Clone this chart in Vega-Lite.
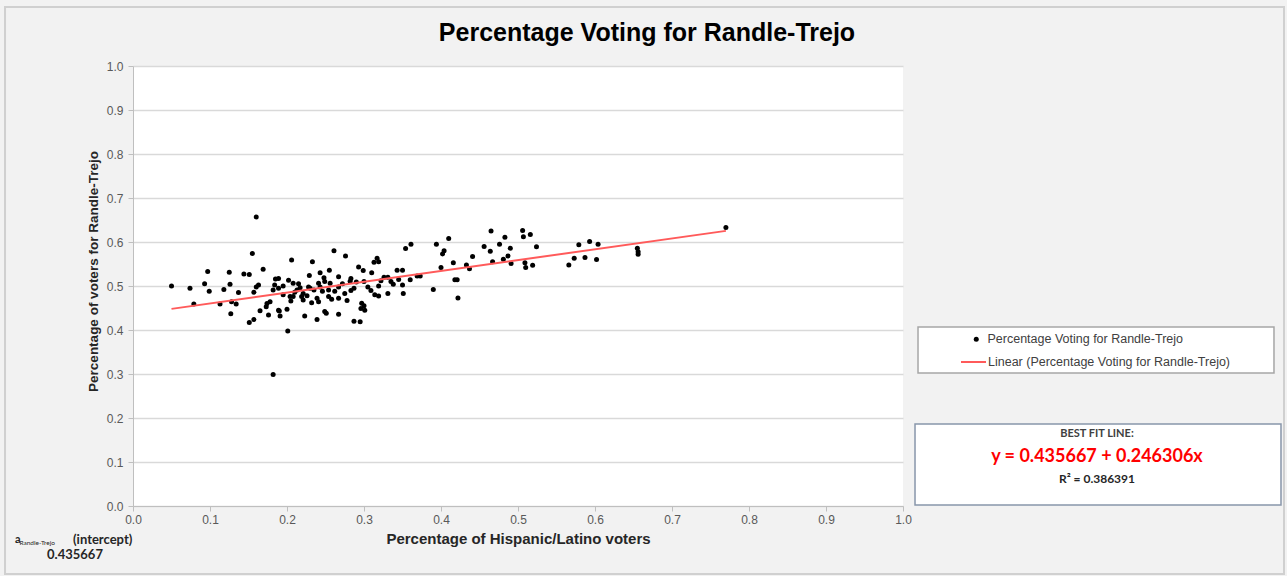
{
  "$schema": "https://vega.github.io/schema/vega-lite/v6.json",
  "width": 770,
  "height": 440,
  "autosize": {"type": "none"},
  "padding": {"left": 133, "top": 66, "right": 384, "bottom": 70},
  "background": "#f2f2f2",
  "config": {
    "view": {"fill": "white", "stroke": null},
    "font": "Liberation Sans"
  },
  "title": {
    "text": "Percentage Voting for Randle-Trejo",
    "fontSize": 25,
    "fontWeight": "bold",
    "font": "Liberation Sans",
    "color": "#000000",
    "frame": "group",
    "anchor": "middle",
    "dx": 129,
    "offset": -40
  },
  "datasets": {
    "pts": [
      {"x":0.160,"y":0.657},{"x":0.155,"y":0.574},{"x":0.097,"y":0.533},{"x":0.125,"y":0.531},{"x":0.144,"y":0.527},
      {"x":0.151,"y":0.526},{"x":0.169,"y":0.538},{"x":0.050,"y":0.500},{"x":0.074,"y":0.495},{"x":0.093,"y":0.505},
      {"x":0.099,"y":0.488},{"x":0.118,"y":0.492},{"x":0.126,"y":0.504},{"x":0.137,"y":0.485},{"x":0.079,"y":0.459},
      {"x":0.113,"y":0.459},{"x":0.128,"y":0.464},{"x":0.134,"y":0.459},{"x":0.127,"y":0.437},{"x":0.151,"y":0.417},
      {"x":0.157,"y":0.424},{"x":0.165,"y":0.444},{"x":0.157,"y":0.486},{"x":0.160,"y":0.498},{"x":0.163,"y":0.502},
      {"x":0.174,"y":0.460},{"x":0.173,"y":0.453},{"x":0.178,"y":0.464},{"x":0.176,"y":0.434},{"x":0.182,"y":0.491},
      {"x":0.185,"y":0.516},{"x":0.189,"y":0.495},{"x":0.189,"y":0.445},{"x":0.182,"y":0.299},
      {"x":0.361,"y":0.595},{"x":0.354,"y":0.585},{"x":0.261,"y":0.580},{"x":0.276,"y":0.568},{"x":0.206,"y":0.559},
      {"x":0.233,"y":0.555},{"x":0.317,"y":0.563},{"x":0.319,"y":0.555},{"x":0.313,"y":0.554},{"x":0.293,"y":0.543},
      {"x":0.299,"y":0.535},{"x":0.255,"y":0.536},{"x":0.243,"y":0.530},{"x":0.229,"y":0.524},{"x":0.248,"y":0.519},
      {"x":0.267,"y":0.521},{"x":0.282,"y":0.511},{"x":0.189,"y":0.517},{"x":0.202,"y":0.513},{"x":0.184,"y":0.502},
      {"x":0.310,"y":0.530},{"x":0.326,"y":0.520},{"x":0.331,"y":0.520},{"x":0.343,"y":0.536},{"x":0.350,"y":0.536},
      {"x":0.360,"y":0.514},{"x":0.338,"y":0.504},{"x":0.350,"y":0.502},{"x":0.319,"y":0.500},{"x":0.305,"y":0.498},
      {"x":0.290,"y":0.509},{"x":0.287,"y":0.495},{"x":0.275,"y":0.483},{"x":0.267,"y":0.498},{"x":0.256,"y":0.506},
      {"x":0.254,"y":0.491},{"x":0.243,"y":0.498},{"x":0.235,"y":0.491},{"x":0.228,"y":0.498},{"x":0.221,"y":0.483},
      {"x":0.217,"y":0.496},{"x":0.210,"y":0.486},{"x":0.204,"y":0.476},{"x":0.195,"y":0.480},{"x":0.221,"y":0.468},
      {"x":0.239,"y":0.472},{"x":0.241,"y":0.464},{"x":0.254,"y":0.476},{"x":0.267,"y":0.472},{"x":0.278,"y":0.467},
      {"x":0.297,"y":0.461},{"x":0.300,"y":0.455},{"x":0.296,"y":0.449},{"x":0.301,"y":0.445},{"x":0.314,"y":0.480},
      {"x":0.331,"y":0.483},{"x":0.351,"y":0.483},{"x":0.249,"y":0.442},{"x":0.251,"y":0.438},{"x":0.267,"y":0.436},
      {"x":0.223,"y":0.432},{"x":0.239,"y":0.424},{"x":0.200,"y":0.447},{"x":0.191,"y":0.432},{"x":0.190,"y":0.443},
      {"x":0.287,"y":0.420},{"x":0.295,"y":0.419},{"x":0.201,"y":0.398},
      {"x":0.465,"y":0.625},{"x":0.506,"y":0.626},{"x":0.507,"y":0.612},{"x":0.516,"y":0.617},{"x":0.483,"y":0.611},
      {"x":0.410,"y":0.608},{"x":0.394,"y":0.595},{"x":0.476,"y":0.595},{"x":0.456,"y":0.590},{"x":0.464,"y":0.579},
      {"x":0.490,"y":0.586},{"x":0.524,"y":0.589},{"x":0.404,"y":0.580},{"x":0.402,"y":0.573},{"x":0.487,"y":0.568},
      {"x":0.481,"y":0.561},{"x":0.441,"y":0.567},{"x":0.467,"y":0.555},{"x":0.491,"y":0.551},{"x":0.509,"y":0.553},
      {"x":0.510,"y":0.542},{"x":0.519,"y":0.547},{"x":0.416,"y":0.553},{"x":0.433,"y":0.548},{"x":0.437,"y":0.539},
      {"x":0.400,"y":0.542},{"x":0.373,"y":0.523},{"x":0.369,"y":0.523},{"x":0.418,"y":0.514},{"x":0.421,"y":0.514},
      {"x":0.390,"y":0.492},{"x":0.422,"y":0.473},
      {"x":0.770,"y":0.633},{"x":0.593,"y":0.601},{"x":0.579,"y":0.594},{"x":0.604,"y":0.595},{"x":0.655,"y":0.586},
      {"x":0.656,"y":0.578},{"x":0.656,"y":0.572},{"x":0.573,"y":0.563},{"x":0.587,"y":0.565},{"x":0.602,"y":0.560},
      {"x":0.566,"y":0.548},
      {"x":0.319,"y":0.477},{"x":0.283,"y":0.517},{"x":0.249,"y":0.510},{"x":0.241,"y":0.506},{"x":0.230,"y":0.495},
      {"x":0.219,"y":0.476},{"x":0.208,"y":0.506},{"x":0.213,"y":0.491},{"x":0.208,"y":0.476},
      {"x":0.215,"y":0.505},{"x":0.226,"y":0.478},{"x":0.246,"y":0.488},{"x":0.262,"y":0.488},{"x":0.272,"y":0.505},
      {"x":0.283,"y":0.490},{"x":0.300,"y":0.510},{"x":0.309,"y":0.490},{"x":0.322,"y":0.512},{"x":0.335,"y":0.510},
      {"x":0.345,"y":0.515},{"x":0.258,"y":0.470},{"x":0.232,"y":0.462},{"x":0.205,"y":0.466},{"x":0.195,"y":0.500}
    ],
    "fit": [
      {"x": 0.05, "y": 0.4480},
      {"x": 0.77, "y": 0.6253}
    ],
    "one": [{}]
  },
  "layer": [
    {
      "data": {"name": "one"},
      "mark": {"type": "rect", "fill": "transparent", "stroke": "#d0d0d0", "strokeWidth": 2, "clip": false},
      "encoding": {"x": {"datum": -0.1662}, "x2": {"datum": 1.4948}, "y": {"datum": 1.1341}, "y2": {"datum": -0.1545}}
    },
    {
      "data": {"name": "pts"},
      "mark": {"type": "point", "filled": true, "size": 25, "opacity": 1},
      "encoding": {
        "x": {
          "field": "x", "type": "quantitative",
          "scale": {"domain": [0, 1], "nice": false, "zero": false},
          "axis": {
            "title": "Percentage of Hispanic/Latino voters",
            "values": [0,0.1,0.2,0.3,0.4,0.5,0.6,0.7,0.8,0.9,1.0],
            "format": ".1f", "grid": false,
            "domainColor": "#bfbfbf", "tickColor": "#bfbfbf", "tickSize": 5,
            "labelFontSize": 12, "labelColor": "#595959", "labelPadding": 3,
            "labelFlush": false, "labelOverlap": false,
            "titleFontSize": 15, "titleFontWeight": "bold", "titleColor": "#262626", "titlePadding": 6
          }
        },
        "y": {
          "field": "y", "type": "quantitative",
          "scale": {"domain": [0, 1], "nice": false, "zero": false},
          "axis": {
            "title": "Percentage of voters for Randle-Trejo",
            "values": [0,0.1,0.2,0.3,0.4,0.5,0.6,0.7,0.8,0.9,1.0],
            "format": ".1f", "grid": true, "gridColor": "#d9d9d9", "gridWidth": 1.5,
            "domainColor": "#bfbfbf", "tickColor": "#bfbfbf", "tickSize": 5,
            "labelFontSize": 12, "labelColor": "#595959", "labelPadding": 5,
            "labelFlush": false, "labelOverlap": false,
            "titleFontSize": 13.5, "titleFontWeight": "bold", "titleColor": "#262626",
            "titleX": -40, "titleY": 205, "titleAngle": -90, "titleAlign": "center", "titleBaseline": "middle"
          }
        },
        "fill": {
          "datum": "Percentage Voting for Randle-Trejo",
          "type": "nominal",
          "scale": {"domain": ["Percentage Voting for Randle-Trejo"], "range": ["#000000"]},
          "legend": {
            "orient": "none", "legendX": 837, "legendY": 267,
            "title": null, "padding": 0,
            "symbolSize": 25, "symbolType": "circle",
            "labelFontSize": 12.5, "labelFont": "Liberation Sans", "labelColor": "#404040",
            "labelOffset": 5, "labelLimit": 400
          }
        }
      }
    },
    {
      "data": {"name": "fit"},
      "mark": {"type": "line", "strokeWidth": 2},
      "encoding": {
        "x": {"field": "x", "type": "quantitative"},
        "y": {"field": "y", "type": "quantitative"},
        "stroke": {
          "datum": "Linear (Percentage Voting for Randle-Trejo)",
          "type": "nominal",
          "scale": {"domain": ["Linear (Percentage Voting for Randle-Trejo)"], "range": ["#ff5a5a"]},
          "legend": {
            "orient": "none", "legendX": 827, "legendY": 282.5,
            "title": null, "padding": 0,
            "symbolSize": 625, "symbolType": "stroke", "symbolStrokeWidth": 2,
            "labelFontSize": 12.5, "labelFont": "Liberation Sans", "labelColor": "#404040",
            "labelOffset": 1, "labelLimit": 400
          }
        }
      }
    },
    {
      "data": {"name": "one"},
      "mark": {"type": "rect", "fill": "white", "stroke": "#a6a6a6", "strokeWidth": 1.5, "clip": false},
      "encoding": {"x": {"datum": 1.0195}, "x2": {"datum": 1.4818}, "y": {"datum": 0.4068}, "y2": {"datum": 0.3023}}
    },
    {
      "data": {"name": "one"},
      "mark": {"type": "rect", "fill": "white", "stroke": "#8896aa", "strokeWidth": 1.5, "clip": false},
      "encoding": {"x": {"datum": 1.0156}, "x2": {"datum": 1.4909}, "y": {"datum": 0.1864}, "y2": {"datum": 0.0023}}
    },
    {
      "data": {"name": "one"},
      "mark": {"type": "text", "text": "BEST FIT LINE:", "font": "Lato", "fontSize": 11, "fontWeight": "bold", "color": "#404040", "align": "center", "baseline": "middle", "clip": false},
      "encoding": {"x": {"datum": 1.2519}, "y": {"datum": 0.1636}}
    },
    {
      "data": {"name": "one"},
      "mark": {"type": "text", "text": "y = 0.435667 + 0.246306x", "font": "Lato", "fontSize": 18, "fontWeight": "bold", "color": "#ff0000", "align": "center", "baseline": "middle", "clip": false},
      "encoding": {"x": {"datum": 1.2519}, "y": {"datum": 0.1114}}
    },
    {
      "data": {"name": "one"},
      "mark": {"type": "text", "text": "R² = 0.386391", "font": "Lato", "fontSize": 12, "fontWeight": "bold", "color": "#262626", "align": "center", "baseline": "middle", "clip": false},
      "encoding": {"x": {"datum": 1.2519}, "y": {"datum": 0.0614}}
    },
    {
      "data": {"name": "one"},
      "mark": {"type": "text", "text": "a", "font": "Lato", "fontSize": 11, "fontWeight": "bold", "color": "#262626", "align": "left", "baseline": "middle", "clip": false},
      "encoding": {"x": {"datum": -0.1532}, "y": {"datum": -0.0773}}
    },
    {
      "data": {"name": "one"},
      "mark": {"type": "text", "text": "Randle-Trejo", "font": "Lato", "fontSize": 6.5, "color": "#262626", "align": "left", "baseline": "middle", "clip": false},
      "encoding": {"x": {"datum": -0.1475}, "y": {"datum": -0.0845}}
    },
    {
      "data": {"name": "one"},
      "mark": {"type": "text", "text": "(intercept)", "font": "Lato", "fontSize": 13, "fontWeight": "bold", "color": "#262626", "align": "left", "baseline": "middle", "clip": false},
      "encoding": {"x": {"datum": -0.0779}, "y": {"datum": -0.0773}}
    },
    {
      "data": {"name": "one"},
      "mark": {"type": "text", "text": "0.435667", "font": "Lato", "fontSize": 13, "fontWeight": "bold", "color": "#262626", "align": "center", "baseline": "middle", "clip": false},
      "encoding": {"x": {"datum": -0.0753}, "y": {"datum": -0.1114}}
    }
  ]
}
